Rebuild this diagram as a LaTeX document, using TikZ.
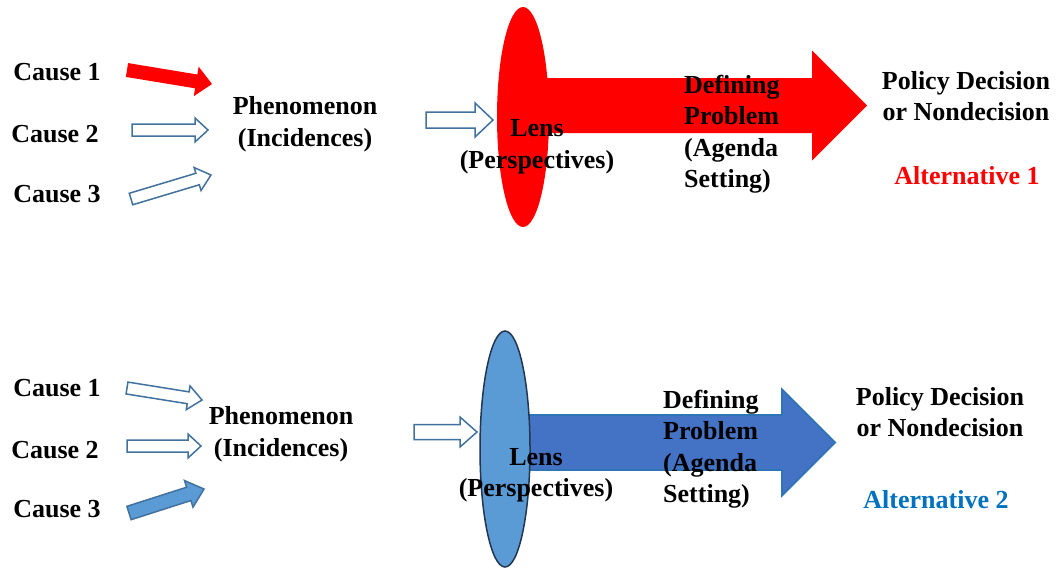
\documentclass[tikz,border=0pt]{standalone}
\usepackage{fontspec}
\setmainfont{Liberation Serif}
\usetikzlibrary{calc}
\definecolor{outl}{HTML}{41719C}
\definecolor{lensblue}{HTML}{5B9BD5}
\definecolor{lensborder}{HTML}{22364F}
\definecolor{bigblue}{HTML}{4472C4}
\definecolor{bigborder}{HTML}{2E75B6}
\definecolor{alttwo}{HTML}{0070C0}
\definecolor{pred}{HTML}{FF0000}
% #1 style, #2 tail coordinate, #3 tip coordinate, #4 shaft half width, #5 head half width, #6 head length
\newcommand\blockarrow[6]{%
  \coordinate (#2base) at ($(#3)!#6!(#2)$);
  \path[#1] ($(#2)!#4!90:(#3)$) -- ($(#2base)!#4!90:(#3)$) -- ($(#2base)!#5!90:(#3)$) -- (#3)
    -- ($(#2base)!#5!-90:(#3)$) -- ($(#2base)!#4!-90:(#3)$) -- ($(#2)!#4!-90:(#3)$) -- cycle;}
\tikzset{
  lbl/.style={font=\fontsize{26}{31.5}\selectfont\bfseries, align=center, inner sep=0pt},
  lblleft/.style={lbl, align=left, anchor=west},
  hollow/.style={draw=outl, line width=1.5pt, fill=white, line join=miter},
  redfill/.style={fill=pred},
  bluefill/.style={fill=lensblue, draw=outl, line width=1.5pt},
}
\begin{document}
\begin{tikzpicture}[x=1pt,y=1pt]
\useasboundingbox (0,0) rectangle (1056,-568);
% ---------- top row ----------
\node[lbl] (c1t) at (57,-72) {Cause 1};
\node[lbl] (c2t) at (55,-134) {Cause 2};
\node[lbl] (c3t) at (57,-194) {Cause 3};
\coordinate (a1t) at (127,-70);  \coordinate (b1t) at (212,-84);
\coordinate (a2t) at (132,-130); \coordinate (b2t) at (208,-130);
\coordinate (a3t) at (131,-199); \coordinate (b3t) at (211,-175);
\blockarrow{redfill}{a1t}{b1t}{7pt}{15pt}{16pt}
\blockarrow{hollow}{a2t}{b2t}{6pt}{12pt}{13pt}
\blockarrow{hollow}{a3t}{b3t}{6pt}{12pt}{14pt}
\node[lbl] (pht) at (305,-124) {Phenomenon\\(Incidences)};
\coordinate (a4t) at (426,-120); \coordinate (b4t) at (493,-120);
\blockarrow{hollow}{a4t}{b4t}{8pt}{17pt}{18pt}
\coordinate (a5t) at (522,-105.5); \coordinate (b5t) at (867,-105.5);
\blockarrow{redfill}{a5t}{b5t}{27.5pt}{55pt}{55pt}
\path[fill=pred] (523,-117) ellipse [x radius=26, y radius=110];
\node[lbl] (lenst) at (537,-147) {Lens\\(Perspectives)};
\node[lblleft] (deft) at (684,-134) {Defining\\Problem\\(Agenda\\Setting)};
\node[lbl] (polt) at (966,-96) {Policy Decision\\or Nondecision};
\node[lbl, text=pred] (alt1) at (967,-176) {Alternative 1};
% ---------- bottom row ----------
\node[lbl] (c1b) at (57,-388) {Cause 1};
\node[lbl] (c2b) at (55,-450) {Cause 2};
\node[lbl] (c3b) at (57,-509) {Cause 3};
\coordinate (a1b) at (127,-388); \coordinate (b1b) at (202,-400);
\coordinate (a2b) at (127,-446); \coordinate (b2b) at (201,-446);
\coordinate (a3b) at (129,-513); \coordinate (b3b) at (204,-489);
\blockarrow{hollow}{a1b}{b1b}{6pt}{12pt}{14pt}
\blockarrow{hollow}{a2b}{b2b}{6pt}{12pt}{13pt}
\blockarrow{bluefill}{a3b}{b3b}{7pt}{14pt}{16pt}
\node[lbl] (phb) at (281,-434) {Phenomenon\\(Incidences)};
\coordinate (a4b) at (414,-432); \coordinate (b4b) at (477,-432);
\blockarrow{hollow}{a4b}{b4b}{7.5pt}{15pt}{17pt}
\coordinate (a5b) at (505,-442.5); \coordinate (b5b) at (835,-442.5);
\blockarrow{fill=bigblue, draw=bigborder, line width=1.8pt, line join=miter}{a5b}{b5b}{27.5pt}{53pt}{53pt}
\path[fill=lensblue, draw=lensborder, line width=1.5pt] (505,-449) ellipse [x radius=25, y radius=118];
\node[lbl] (lensb) at (536,-475) {Lens\\(Perspectives)};
\node[lblleft] (defb) at (663,-449) {Defining\\Problem\\(Agenda\\Setting)};
\node[lbl] (polb) at (940,-412) {Policy Decision\\or Nondecision};
\node[lbl, text=alttwo] (alt2) at (936,-500) {Alternative 2};
\end{tikzpicture}
\end{document}
